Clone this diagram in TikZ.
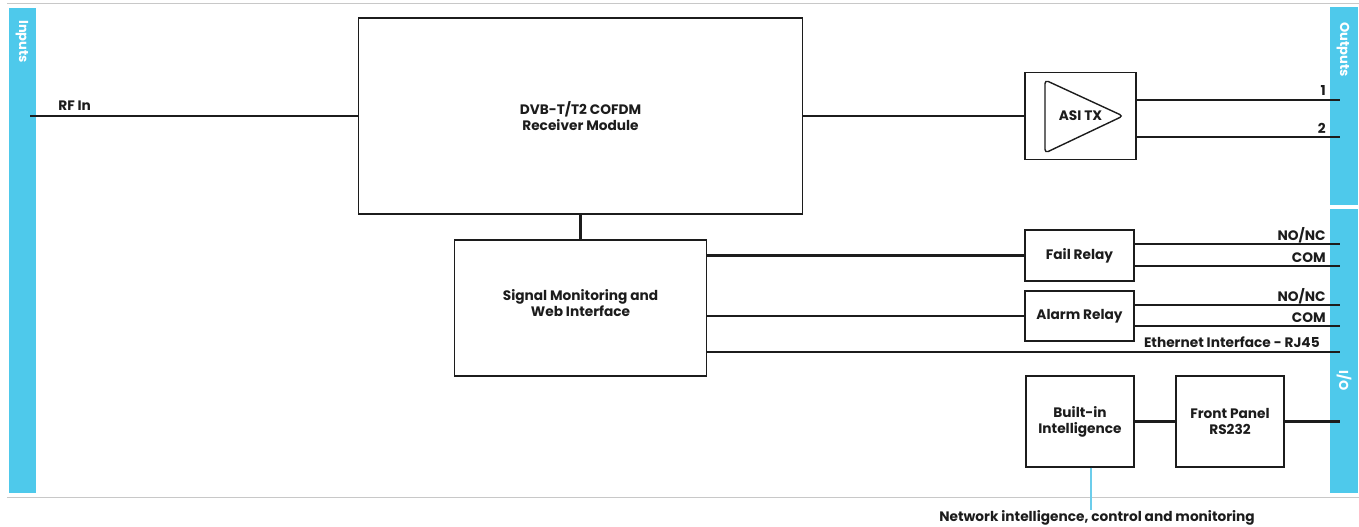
\documentclass[tikz,border=0pt]{standalone}
\usepackage{fontspec}
\setmainfont{Poppins}
\usetikzlibrary{positioning, calc}
\definecolor{barblue}{HTML}{4EC9EB}
\definecolor{rulegray}{HTML}{C8C8C8}
\definecolor{inkdark}{HTML}{1C1C1C}
\definecolor{netblue}{HTML}{6CCDEB}

\begin{document}
\begin{tikzpicture}[x=0.02cm, y=-0.02cm,
	every node/.append style={font=\fontsize{7.8}{9.2}\selectfont\bfseries, text=inkdark},
	blk/.style={draw=inkdark, line width=0.8pt, align=center, inner sep=0pt},
	wire/.style={draw=inkdark, line width=1.25pt},
	barlbl/.style={font=\fontsize{7.4}{9}\selectfont\bfseries, text=white, rotate=-90, anchor=west, inner sep=0pt},
	pinlbl/.style={anchor=base east, inner sep=0pt}]
	\useasboundingbox (0,0) rectangle (1359,527);
	% side bars and frame rules
	\fill[barblue] (9,8) rectangle (36,493);
	\fill[barblue] (1330,7) rectangle (1358,205);
	\fill[barblue] (1330,209) rectangle (1358,493);
	\draw[rulegray, line width=1pt] (7,3.5) -- (1359,3.5);
	\draw[rulegray, line width=1pt] (7,497.5) -- (1359,497.5);
	\node[barlbl] (inbar) at (22,20) {Inputs};
	\node[barlbl] (outbar) at (1343,22) {Outputs};
	\node[barlbl] (iobar) at (1344,370) {I/O};
	% blocks
	\node[blk, minimum width=8.88cm, minimum height=3.92cm] (dvb) at (580.5,116) {DVB-T/T2 COFDM\\Receiver Module};
	\node[blk, minimum width=2.22cm, minimum height=1.74cm] (asi) at (1080.5,116) {ASI TX};
	\draw[inkdark, line width=0.8pt, rounded corners=2pt] (1045,80) -- (1123,116) -- (1045,153) -- cycle;
	\node[blk, minimum width=5.04cm, minimum height=2.72cm] (sigmon) at (580.5,308) {Signal Monitoring and\\Web Interface\\[-3.6pt]};
	\node[blk, minimum width=2.18cm, minimum height=1.02cm] (fail) at (1079.5,255.5) {Fail Relay};
	\node[blk, minimum width=2.18cm, minimum height=1.0cm] (alarm) at (1079.5,316) {Alarm Relay};
	\node[blk, minimum width=2.16cm, minimum height=1.82cm] (builtin) at (1080,421.5) {Built-in\\Intelligence};
	\node[blk, minimum width=2.16cm, minimum height=1.82cm] (front) at (1230,421.5) {Front Panel\\RS232};
	% input side
	\coordinate (rfin) at (30,116);
	\draw[wire] (rfin) -- (dvb.west);
	\node[anchor=base west, inner sep=0pt] (rflbl) at (58,111) {RF In};
	\draw[wire] (dvb) -- (asi);
	\draw[wire] (dvb) -- (sigmon);
	% transport stream outputs
	\foreach \y/\t in {100/1,137/2} {
		\coordinate (ts\t) at (1340,\y);
		\draw[wire] (asi.east |- ts\t) -- (ts\t);
		\node[pinlbl] at (1326,\y-4) {\t};
	}
	% relay contacts
	\foreach \r/\ya/\yb in {fail/244/266, alarm/305/326} {
		\coordinate (\r-no) at (1340,\ya);
		\coordinate (\r-com) at (1340,\yb);
		\draw[wire] (\r.west) -- (\r.west -| sigmon.east);
		\draw[wire] (\r.east |- \r-no) -- (\r-no);
		\draw[wire] (\r.east |- \r-com) -- (\r-com);
		\node[pinlbl] at (1326,\ya-4) {NO/NC};
		\node[pinlbl] at (1326,\yb-4) {COM};
	}
	% ethernet and serial
	\coordinate (eth) at (1340,352);
	\draw[wire] (eth -| sigmon.east) -- (eth);
	\node[pinlbl] (ethlbl) at (1320,347) {Ethernet Interface - RJ45};
	\coordinate (rs) at (1340,421.5);
	\draw[wire] (builtin) -- (front);
	\draw[wire] (front) -- (rs);
	% network tap
	\node[inner sep=0pt] (netlbl) at (1097,518) {Network intelligence, control and monitoring};
	\coordinate (nettap) at (1091,0);
	\draw[netblue, line width=0.6pt] (builtin.south -| nettap) -- (netlbl.north -| nettap);
\end{tikzpicture}
\end{document}
